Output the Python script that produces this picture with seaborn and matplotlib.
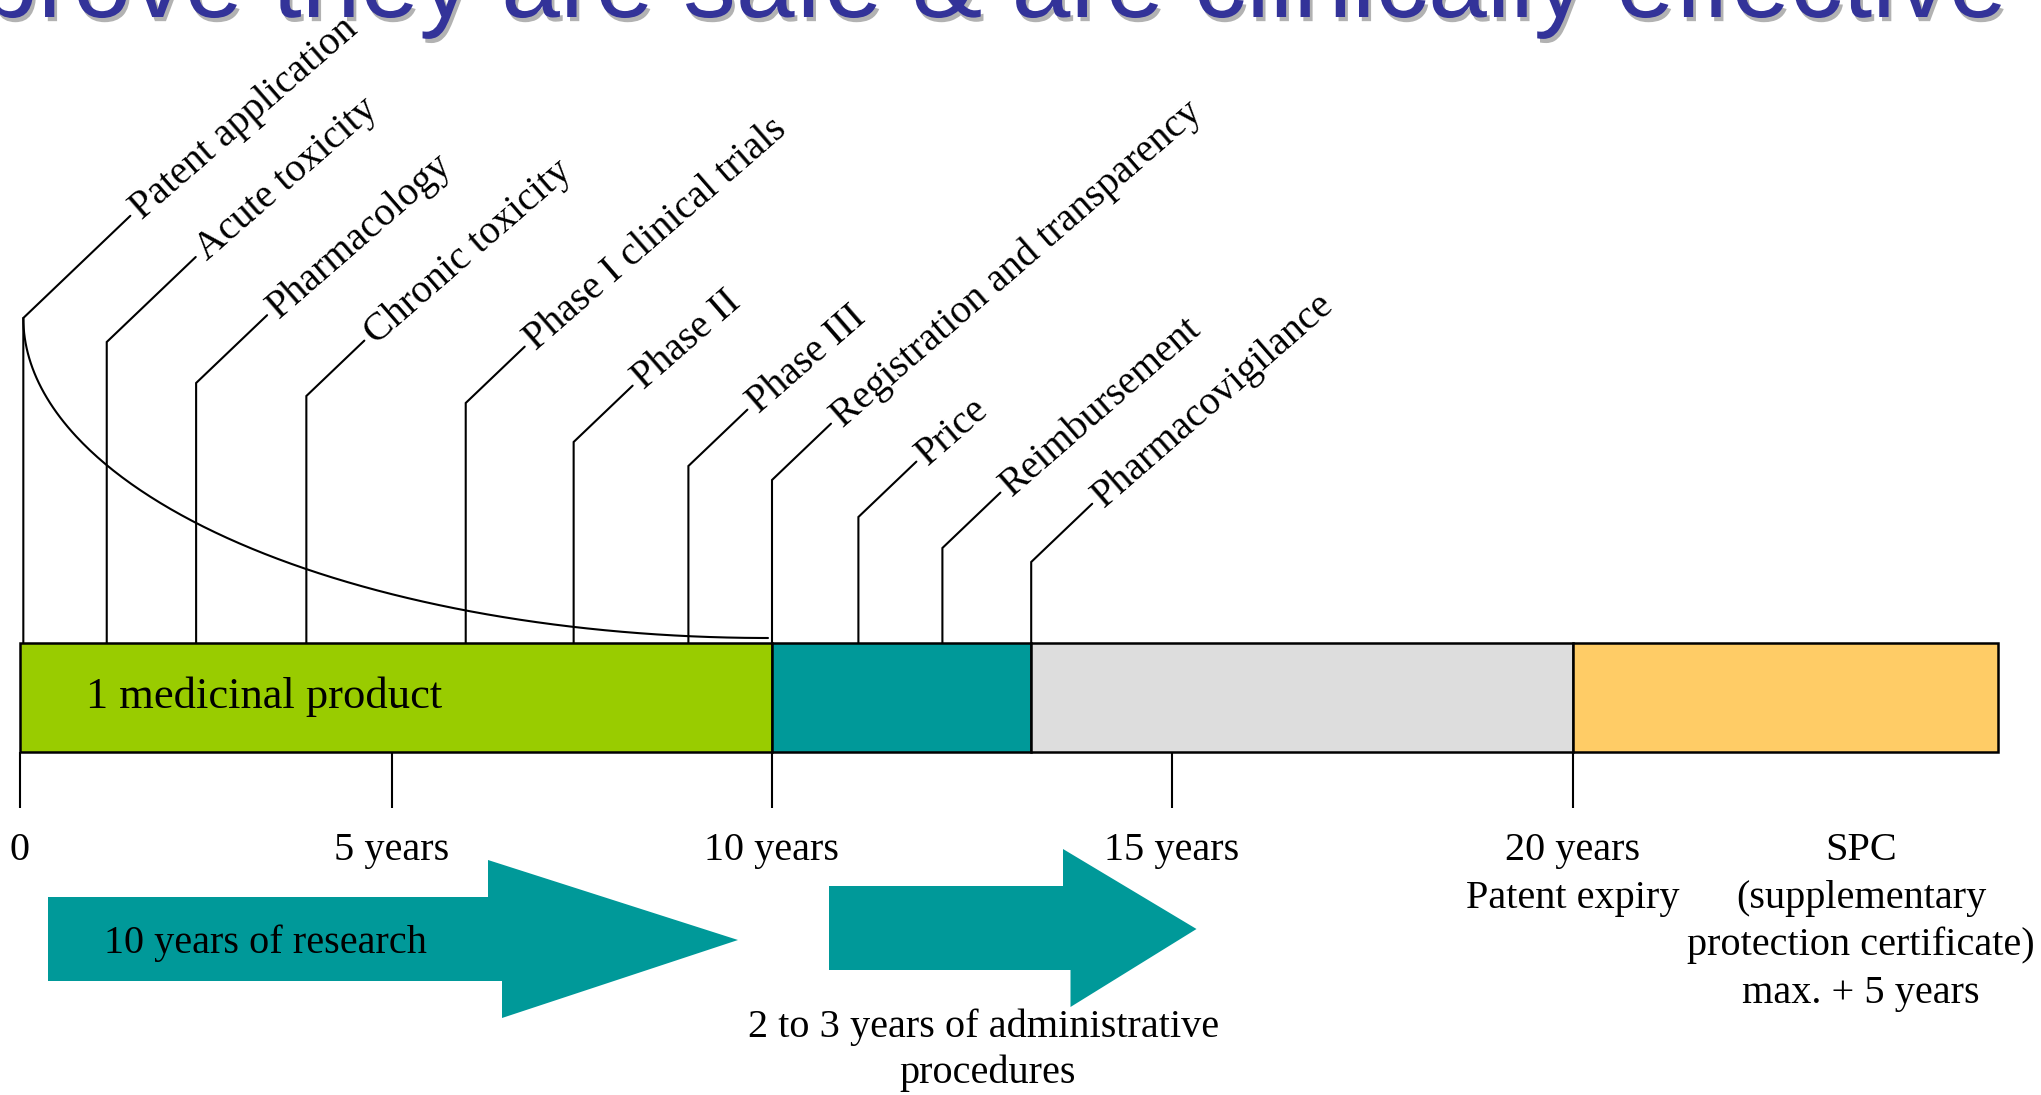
import numpy as np
import matplotlib
matplotlib.use("Agg")
import matplotlib.pyplot as plt
import matplotlib.patheffects as pe
from matplotlib.patches import Polygon
import seaborn as sns

# ---------------- data ----------------
SEGMENT_NAMES = ["Research", "Administrative procedures", "Patent protection", "SPC"]
SEGMENT_START = [0.0, 10.0, 13.24, 20.0]
SEGMENT_END = [10.0, 13.24, 20.0, 25.0]
SEGMENT_COLORS = ["#99CC00", "#009999", "#DDDDDD", "#FFCC66"]

TICK_YEARS = [0, 5, 10, 15, 20]
TICK_LABELS = ["0", "5 years", "10 years", "15 years", "20 years"]

EVENTS = ["Patent application", "Acute toxicity", "Pharmacology", "Chronic toxicity",
          "Phase I clinical trials", "Phase II", "Phase III",
          "Registration and transparency", "Price", "Reimbursement", "Pharmacovigilance"]
EVENT_YEARS = [0.05, 1.17, 2.37, 3.85, 5.97, 7.39, 8.90, 10.0, 11.08, 12.13, 13.24]

TITLE = "prove they are safe & are clinically effective"
BAR_LABEL = "1 medicinal product"
RESEARCH_LABEL = "10 years of research"
ADMIN_LABEL = ["2 to 3 years of administrative", "procedures"]
EXPIRY_LABEL = "Patent expiry"
SPC_LABEL = ["SPC", "(supplementary", "protection certificate)", "max. + 5 years"]

# ---------------- layout (pixels) ----------------
W, H = 2041, 1095
BAR_TOP, BAR_BOT = 643, 752
LEADER_TOP = [318, 342, 383, 396, 403, 442, 466, 480, 517, 548, 562]
LEADER_DX = [107, 89, 71, 58, 59, 59, 59, 59, 58, 58, 61]
LABEL_ANGLE = 41.0

# piecewise-linear time axis calibration (years -> pixels)
KNOT_YR = np.array([0, 5, 10, 15, 20, 25], float)
KNOT_PX = np.array([19.6, 392, 772, 1172, 1572.5, 1997.5], float)
S0 = (KNOT_PX[1] - KNOT_PX[0]) / (KNOT_YR[1] - KNOT_YR[0])
S1 = (KNOT_PX[-1] - KNOT_PX[-2]) / (KNOT_YR[-1] - KNOT_YR[-2])


def fwd(x):
    x = np.asarray(x, float)
    y = np.interp(x, KNOT_YR, KNOT_PX)
    y = np.where(x < KNOT_YR[0], KNOT_PX[0] + (x - KNOT_YR[0]) * S0, y)
    y = np.where(x > KNOT_YR[-1], KNOT_PX[-1] + (x - KNOT_YR[-1]) * S1, y)
    return y


def inv(p):
    p = np.asarray(p, float)
    x = np.interp(p, KNOT_PX, KNOT_YR)
    x = np.where(p < KNOT_PX[0], KNOT_YR[0] + (p - KNOT_PX[0]) / S0, x)
    x = np.where(p > KNOT_PX[-1], KNOT_YR[-1] + (p - KNOT_PX[-1]) / S1, x)
    return x


sns.set_theme(style="white")
plt.rcParams["font.family"] = ["Liberation Serif", "DejaVu Serif"]
plt.rcParams["text.color"] = "black"

fig = plt.figure(figsize=(W / 100, H / 100), dpi=100)
fig.patch.set_facecolor("white")

# timeline axes: x in years (function scale), y in pixels
ax = fig.add_axes([0, 0, 1, 1])
ax.set_xscale("function", functions=(fwd, inv))
ax.set_xlim(float(inv(0)), float(inv(W)))
ax.set_ylim(H, 0)
ax.axis("off")

# overlay axes in pixel coordinates for decoration
ov = fig.add_axes([0, 0, 1, 1], zorder=3)
ov.set_xlim(0, W)
ov.set_ylim(H, 0)
ov.axis("off")
ov.patch.set_alpha(0)

# bar segments
widths = [e - s for s, e in zip(SEGMENT_START, SEGMENT_END)]
ax.barh([(BAR_TOP + BAR_BOT) / 2] * len(widths), widths, left=SEGMENT_START,
        height=BAR_BOT - BAR_TOP, color=SEGMENT_COLORS, edgecolor="black",
        linewidth=1.8, zorder=2)

# ticks below the bar
ax.vlines(TICK_YEARS, BAR_BOT, 808, color="black", lw=1.5, zorder=1)
for yr, lab in zip(TICK_YEARS, TICK_LABELS):
    ax.text(yr, 860, lab, ha="center", va="baseline", fontsize=29, color="black")
ax.text(TICK_YEARS[-1], 908, EXPIRY_LABEL, ha="center", va="baseline", fontsize=29,
        color="black")

# event leaders and labels
a = np.deg2rad(LABEL_ANGLE)
along = np.array([np.cos(a), -np.sin(a)])
perp = np.array([np.sin(a), np.cos(a)])
for name, yr, top, dx in zip(EVENTS, EVENT_YEARS, LEADER_TOP, LEADER_DX):
    xp = float(fwd(yr))
    dy = dx * 0.955
    ex, ey = xp + dx, top - dy
    ax.plot([yr, yr, float(inv(ex))], [BAR_TOP, top, ey],
            color="black", lw=1.5, solid_joinstyle="miter", zorder=1)
    tx, ty = np.array([ex, ey]) + along * 6 + perp * 11
    ax.text(float(inv(tx)), ty, name, rotation=LABEL_ANGLE,
            rotation_mode="anchor", ha="left", va="baseline", fontsize=28.8,
            color="black")

# curve from patent application to registration
t = np.linspace(0, np.pi / 2, 200)
x0 = float(fwd(EVENT_YEARS[0]))
x1 = float(fwd(EVENT_YEARS[7])) - 4
cy = LEADER_TOP[0]
ov.plot(x1 - (x1 - x0) * np.cos(t), cy + (BAR_TOP - 5 - cy) * np.sin(t),
        color="black", lw=1.5)

# block arrows
arrow1 = [(48, 897), (488, 897), (488, 860), (738, 940), (502, 1018), (502, 981), (48, 981)]
arrow2 = [(829, 886), (1063, 886), (1063, 849), (1196.5, 929), (1070.5, 1007), (1070.5, 970), (829, 970)]
for poly in (arrow1, arrow2):
    ov.add_patch(Polygon(poly, closed=True, facecolor="#009999", edgecolor="none", zorder=1))

ov.text(103.6, 953, RESEARCH_LABEL, ha="left", va="baseline", fontsize=29, zorder=4,
        color="black")
ov.text(983.5, 1037, ADMIN_LABEL[0], ha="center", va="baseline", fontsize=29, color="black")
ov.text(988, 1083, ADMIN_LABEL[1], ha="center", va="baseline", fontsize=29, color="black")
for i, line in enumerate(SPC_LABEL):
    ov.text(1861, 860 + 47.7 * i, line, ha="center", va="baseline", fontsize=29,
            color="black")

ov.text(85.6, 708, BAR_LABEL, ha="left", va="baseline", fontsize=32, zorder=4, color="black")

# title (cut at the top)
ov.text(-21, 17, TITLE, ha="left", va="baseline", fontsize=76,
        family=["Liberation Sans", "DejaVu Sans"], color="#333399",
        path_effects=[pe.SimplePatchShadow(offset=(2, -3), shadow_rgbFace="#B2B2B2", alpha=1),
                      pe.Normal()])

fig.savefig("out.png", dpi=100, facecolor="white")
